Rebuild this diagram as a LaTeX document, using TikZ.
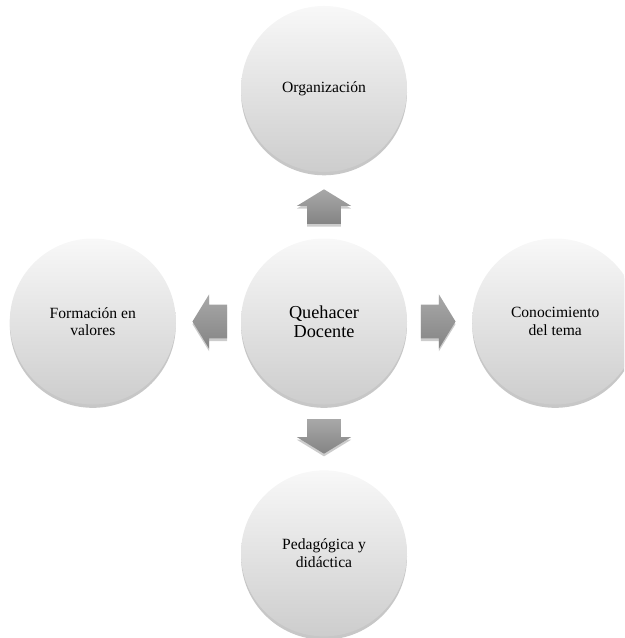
\documentclass[tikz,border=0pt]{standalone}
\usepackage{fontspec}
\setmainfont{Liberation Serif}
\usetikzlibrary{positioning,calc,shapes.arrows,shadows}
\definecolor{ballTop}{HTML}{F8F8F8}
\definecolor{ballBottom}{HTML}{CDCDCD}
\definecolor{arrowTop}{HTML}{A8A8A8}
\definecolor{arrowBottom}{HTML}{848484}
\tikzset{
  ball/.style={circle, minimum size=124.5pt, inner sep=0pt, align=center,
    top color=ballTop, bottom color=ballBottom, draw=none,
    drop shadow={shadow xshift=0pt, shadow yshift=-2.5pt, opacity=.22, fill=black},
    font=\fontsize{11.7}{13.2}\selectfont},
  blockarrow/.style={single arrow, draw=none, inner xsep=0pt, inner ysep=12.5pt,
    minimum width=0pt, minimum height=26pt, single arrow head extend=7.7pt,
    single arrow tip angle=117, shape border rotate=#1,
    top color=arrowTop, bottom color=arrowBottom,
    drop shadow={shadow xshift=0pt, shadow yshift=-2pt, opacity=.2, fill=black}},
  vblock/.style={blockarrow=#1, inner xsep=12.5pt, inner ysep=0pt}
}

\begin{document}
\begin{tikzpicture}[x=0.75pt, y=-0.75pt]
\useasboundingbox (0,0) rectangle (624,638);
\clip (0,0) rectangle (624,638);
\node[ball, font=\fontsize{13.7}{14.3}\selectfont] (doc) at (324,321.5) {Quehacer\\Docente};
\node[ball, above=49.5pt of doc] (org) {Organización};
\node[ball, left=48.5pt of doc] (val) {Formación en\\valores};
\node[ball, right=48.5pt of doc] (tema) {Conocimiento\\del tema};
\node[ball, below=49pt of doc] (ped) {Pedagógica y\\didáctica};
% flechas
\node[vblock=90, above=10.5pt of doc, anchor=tail] (up) {};
\node[blockarrow=180, left=10pt of doc, anchor=tail] (lt) {};
\node[blockarrow=0, right=10pt of doc, anchor=tail] (rt) {};
\node[vblock=270, below=10.5pt of doc, anchor=tail] (dn) {};
\end{tikzpicture}
\end{document}
